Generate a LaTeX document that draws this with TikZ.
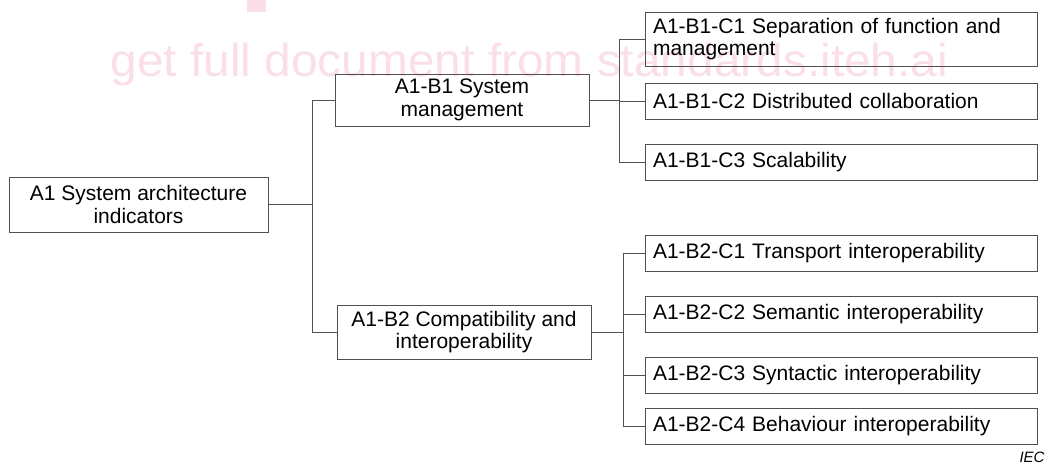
\documentclass[tikz,border=0pt]{standalone}
\usepackage{fontspec}
\setmainfont{Liberation Sans}
\usepackage{tikz}
\usetikzlibrary{positioning}

\definecolor{wmpink}{RGB}{250,222,232}
\definecolor{linegray}{RGB}{80,80,80}

\begin{document}
\begin{tikzpicture}[x=1pt,y=-1pt,line width=1pt,
                    box/.style={rectangle,draw=linegray,inner xsep=8pt,inner ysep=0pt,
                                font=\fontsize{21}{22.5}\selectfont},
                    mid box/.style={box,align=center,minimum height=53pt},
                    leaf box/.style={box,align=left,text width=376pt,minimum height=36pt}]

  \useasboundingbox (0,0) rectangle (1049,466);

  % watermark
  \fill[wmpink] (247,0) rectangle (266,12);
  \node[text=wmpink,font=\fontsize{46}{46}\selectfont,xscale=1.04,anchor=base west,inner sep=0pt]
       (wm) at (110,76) {get full document from standards.iteh.ai};

  \node[mid box,minimum width=259pt,minimum height=55pt] (A1) at (138.5,204.5) {A1 System architecture\\indicators};
  \node[mid box,minimum width=254pt,minimum height=52pt] (B1) at (462,100) {A1-B1 System\\management};
  \node[mid box,minimum width=254pt,minimum height=54pt] (B2) at (464,332) {A1-B2 Compatibility and\\interoperability};

  \node[leaf box,minimum height=54pt] (C11) at (841,39) {A1-B1-C1 Separation of function and\\management};
  \node[leaf box] (C12) at (841,101) {A1-B1-C2 Distributed collaboration};
  \node[leaf box] (C13) at (841,162.5) {A1-B1-C3 Scalability};

  \node[leaf box] (C21) at (841,253.5) {A1-B2-C1 Transport interoperability};
  \node[leaf box] (C22) at (841,314) {A1-B2-C2 Semantic interoperability};
  \node[leaf box] (C23) at (841,375) {A1-B2-C3 Syntactic interoperability};
  \node[leaf box] (C24) at (841,426) {A1-B2-C4 Behaviour interoperability};

  \node[anchor=base east,inner sep=0pt,font=\fontsize{15}{15}\selectfont\itshape] (iec) at (1045,462) {IEC};

  % connectors
  \coordinate (jA) at (312,204.5);
  \coordinate (jB) at (619,100);
  \coordinate (jC) at (623,332);

  \draw[linegray] (A1.east) -- (jA);
  \draw[linegray] (jA) |- (B1.west);
  \draw[linegray] (jA) |- (B2.west);

  \draw[linegray] (B1.east) -- (jB);
  \foreach \c in {C11,C12,C13}
    \draw[linegray] (jB) |- (\c.west);

  \draw[linegray] (B2.east) -- (jC);
  \foreach \c in {C21,C22,C23,C24}
    \draw[linegray] (jC) |- (\c.west);
\end{tikzpicture}
\end{document}
